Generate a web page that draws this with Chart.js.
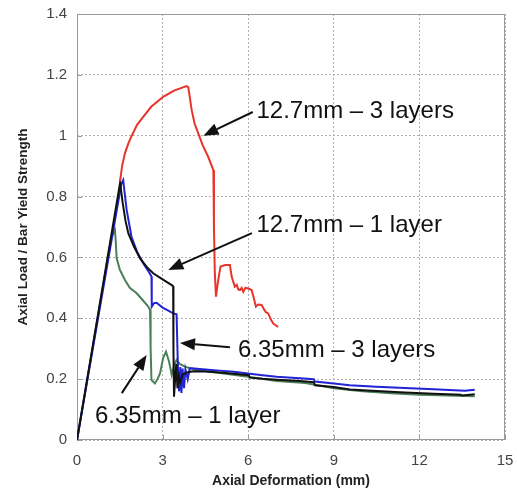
<!DOCTYPE html>
<html>
<head>
<meta charset="utf-8">
<script src="https://cdn.jsdelivr.net/npm/chart.js@4.4.1/dist/chart.umd.min.js"></script>
<style>
  html, body { margin: 0; padding: 0; background: #fff; }
  #chart { display: block; }
</style>
</head>
<body>
<canvas id="chart" width="517" height="492"></canvas>
<script>
// ==== Data ====
const xTicks = [0, 3, 6, 9, 12, 15];
const yTicks = [0, 0.2, 0.4, 0.6, 0.8, 1, 1.2, 1.4];

// 12.7mm - 3 layers (red)
const red3X = [1.51, 1.58, 1.68, 1.80, 1.92, 2.10, 2.32, 2.60, 3.02, 3.40, 3.84, 3.90, 4.02, 4.12, 4.25, 4.40, 4.60, 4.78,
  4.80, 4.83, 4.87, 4.95, 5.03, 5.20, 5.36, 5.42, 5.53, 5.60, 5.65, 5.71, 5.77, 5.83, 5.90, 6.00, 6.12, 6.20, 6.27,
  6.35, 6.47, 6.55, 6.62, 6.70, 6.80, 6.88, 6.95, 7.05];
const red3Y = [0.850, 0.900, 0.942, 0.975, 1.000, 1.035, 1.062, 1.095, 1.128, 1.148, 1.163, 1.160, 1.084, 1.040, 1.008, 0.970, 0.930, 0.887,
  0.700, 0.550, 0.471, 0.526, 0.570, 0.575, 0.575, 0.537, 0.504, 0.510, 0.495, 0.493, 0.500, 0.487, 0.500, 0.498, 0.493, 0.465, 0.438,
  0.445, 0.444, 0.430, 0.420, 0.416, 0.395, 0.383, 0.378, 0.372];

// 12.7mm - 1 layer (black)
const blk1X = [0, 1.51, 1.60, 1.70, 1.80, 2.00, 2.21, 2.45, 2.67, 3.00, 3.32, 3.37, 3.38, 3.40, 3.44, 3.48, 3.52, 3.57, 3.62,
  3.70, 3.85, 4.07, 4.50, 5.00, 5.50, 6.02, 6.06, 6.50, 7.00, 7.81, 8.30, 8.34, 9.00, 9.56, 10.5, 11.49, 12.5, 13.45, 13.5, 13.94];
const blk1Y = [0, 0.845, 0.780, 0.720, 0.679, 0.635, 0.597, 0.568, 0.548, 0.528, 0.509, 0.505, 0.300, 0.142, 0.200, 0.250, 0.170, 0.210, 0.190,
  0.215, 0.222, 0.226, 0.225, 0.222, 0.218, 0.213, 0.205, 0.201, 0.198, 0.194, 0.190, 0.180, 0.174, 0.166, 0.161, 0.156, 0.152, 0.149, 0.146, 0.150];

// 6.35mm - 3 layers (blue)
const blu3X = [0, 1.55, 1.62, 1.66, 1.74, 1.91, 2.10, 2.32, 2.50, 2.61, 2.62, 2.70, 2.79, 3.00, 3.20, 3.37, 3.49, 3.52, 3.55, 3.58,
  3.62, 3.66, 3.70, 3.75, 3.80, 3.88, 3.95, 4.02, 4.50, 5.00, 5.50, 6.06, 6.50, 7.00, 7.81, 8.30, 8.34, 9.00, 9.56, 10.5, 11.49, 12.5, 13.59, 13.94];
const blu3Y = [0, 0.840, 0.854, 0.820, 0.756, 0.668, 0.620, 0.581, 0.555, 0.537, 0.438, 0.450, 0.451, 0.435, 0.425, 0.416, 0.413, 0.300, 0.200, 0.160,
  0.240, 0.155, 0.235, 0.170, 0.232, 0.200, 0.235, 0.236, 0.232, 0.228, 0.224, 0.218, 0.213, 0.208, 0.203, 0.200, 0.192, 0.186, 0.180, 0.175, 0.171, 0.167, 0.162, 0.165];

// 6.35mm - 1 layer (green)
const grn1X = [0, 1.20, 1.33, 1.36, 1.39, 1.50, 1.68, 1.85, 2.09, 2.30, 2.50, 2.56, 2.58, 2.61, 2.73, 2.82, 2.91, 3.02, 3.12,
  3.22, 3.32, 3.40, 3.49, 3.60, 3.78, 4.19, 5.00, 6.00, 7.00, 8.00, 9.00, 10.0, 11.0, 12.0, 13.0, 13.94];
const grn1Y = [0, 0.665, 0.690, 0.650, 0.597, 0.560, 0.526, 0.500, 0.482, 0.460, 0.438, 0.427, 0.300, 0.197, 0.186, 0.200, 0.219, 0.270, 0.290,
  0.260, 0.214, 0.245, 0.263, 0.250, 0.241, 0.230, 0.220, 0.208, 0.194, 0.187, 0.170, 0.160, 0.154, 0.149, 0.146, 0.144];

// annotations: label, text anchor, arrow tail, arrow tip (data units)
const notes = [
  { text: '12.7mm \u2013 3 layers', at: [6.29, 1.079], from: [6.16, 1.078], to: [4.43, 1.000] },
  { text: '12.7mm \u2013 1 layer', at: [6.29, 0.706], from: [6.13, 0.680], to: [3.20, 0.559] },
  { text: '6.35mm \u2013 3 layers', at: [5.64, 0.296], from: [5.36, 0.305], to: [3.61, 0.319] },
  { text: '6.35mm \u2013 1 layer', at: [0.63, 0.077], from: [1.57, 0.154], to: [2.44, 0.279] }
];

const FONT = "'Liberation Sans', Arial, Helvetica, sans-serif";

function toPoints(xs, ys) {
  return xs.map((x, i) => ({ x, y: ys[i] }));
}

function series(label, xs, ys, color) {
  return {
    label,
    data: toPoints(xs, ys),
    borderColor: color,
    backgroundColor: color,
    borderWidth: 2,
    pointRadius: 0,
    showLine: true,
    tension: 0
  };
}

// ==== Frame, small ticks and arrows ====
const framePlugin = {
  id: 'frame',
  beforeDatasetsDraw(chart) {
    const { ctx, chartArea: a, scales } = chart;
    ctx.save();
    ctx.strokeStyle = '#9a9a9a';
    ctx.lineWidth = 1;
    ctx.strokeRect(a.left + 0.5, a.top + 0.5, a.right - a.left - 1, a.bottom - a.top - 1);
    ctx.beginPath();
    xTicks.forEach(v => {
      const px = Math.round(scales.x.getPixelForValue(v)) + 0.5;
      ctx.moveTo(px, a.bottom); ctx.lineTo(px, a.bottom - 5);
    });
    yTicks.forEach(v => {
      const py = Math.round(scales.y.getPixelForValue(v)) + 0.5;
      ctx.moveTo(a.left, py); ctx.lineTo(a.left + 5, py);
    });
    ctx.stroke();
    ctx.restore();
  },
  afterDatasetsDraw(chart) {
    const { ctx, scales } = chart;
    const px = v => scales.x.getPixelForValue(v);
    const py = v => scales.y.getPixelForValue(v);
    ctx.save();
    ctx.fillStyle = '#111';
    ctx.strokeStyle = '#111';
    ctx.lineWidth = 2;
    ctx.font = `24px ${FONT}`;
    ctx.textBaseline = 'middle';
    ctx.textAlign = 'left';
    notes.forEach(n => {
      const x0 = px(n.from[0]), y0 = py(n.from[1]);
      const x1 = px(n.to[0]), y1 = py(n.to[1]);
      const ang = Math.atan2(y1 - y0, x1 - x0);
      const len = 15, half = 6;
      const bx = x1 - len * Math.cos(ang), by = y1 - len * Math.sin(ang);
      ctx.beginPath();
      ctx.moveTo(x0, y0);
      ctx.lineTo(bx, by);
      ctx.stroke();
      ctx.beginPath();
      ctx.moveTo(x1, y1);
      ctx.lineTo(bx + half * Math.sin(ang), by - half * Math.cos(ang));
      ctx.lineTo(bx - half * Math.sin(ang), by + half * Math.cos(ang));
      ctx.closePath();
      ctx.fill();
      ctx.fillText(n.text, px(n.at[0]), py(n.at[1]));
    });
    ctx.restore();
  }
};

// ==== Chart ====
const ctx = document.getElementById('chart').getContext('2d');
new Chart(ctx, {
  type: 'scatter',
  data: {
    datasets: [
      series('12.7mm - 3 layers', red3X, red3Y, '#e8342a'),
      series('12.7mm - 1 layer', blk1X, blk1Y, '#111111'),
      series('6.35mm - 3 layers', blu3X, blu3Y, '#2323d6'),
      series('6.35mm - 1 layer', grn1X, grn1Y, '#4b7f58')
    ]
  },
  options: {
    responsive: false,
    animation: false,
    devicePixelRatio: 1,
    layout: { padding: { top: 14, right: 12, left: 0, bottom: 0 } },
    plugins: {
      legend: { display: false },
      tooltip: { enabled: false }
    },
    scales: {
      x: {
        type: 'linear',
        min: 0,
        max: 15,
        afterFit: s => { s.height = 52; s.paddingLeft = 0; s.paddingRight = 0; },
        afterBuildTicks: s => { s.ticks = xTicks.map(v => ({ value: v })); },
        ticks: { color: '#444', padding: 12, font: { family: FONT, size: 15 }, maxRotation: 0 },
        grid: { color: '#b0b0b0', drawTicks: false },
        border: { display: false, dash: [2, 2] },
        title: {
          display: true,
          text: 'Axial Deformation (mm)',
          color: '#222',
          font: { family: FONT, size: 14, weight: 'bold' },
          padding: { top: 0, bottom: 2 }
        }
      },
      y: {
        min: 0,
        max: 1.4,
        afterFit: s => { s.width = 77; s.paddingTop = 0; s.paddingBottom = 0; },
        afterBuildTicks: s => { s.ticks = yTicks.map(v => ({ value: v })); },
        ticks: {
          color: '#444',
          padding: 10,
          font: { family: FONT, size: 15 },
          callback: v => String(Math.round(v * 10) / 10)
        },
        grid: { color: '#b0b0b0', drawTicks: false },
        border: { display: false, dash: [2, 2] },
        title: {
          display: true,
          text: 'Axial Load / Bar Yield Strength',
          color: '#222',
          font: { family: FONT, size: 13.5, weight: 'bold' },
          padding: { top: 15, bottom: 0 }
        }
      }
    }
  },
  plugins: [framePlugin]
});
</script>
</body>
</html>
